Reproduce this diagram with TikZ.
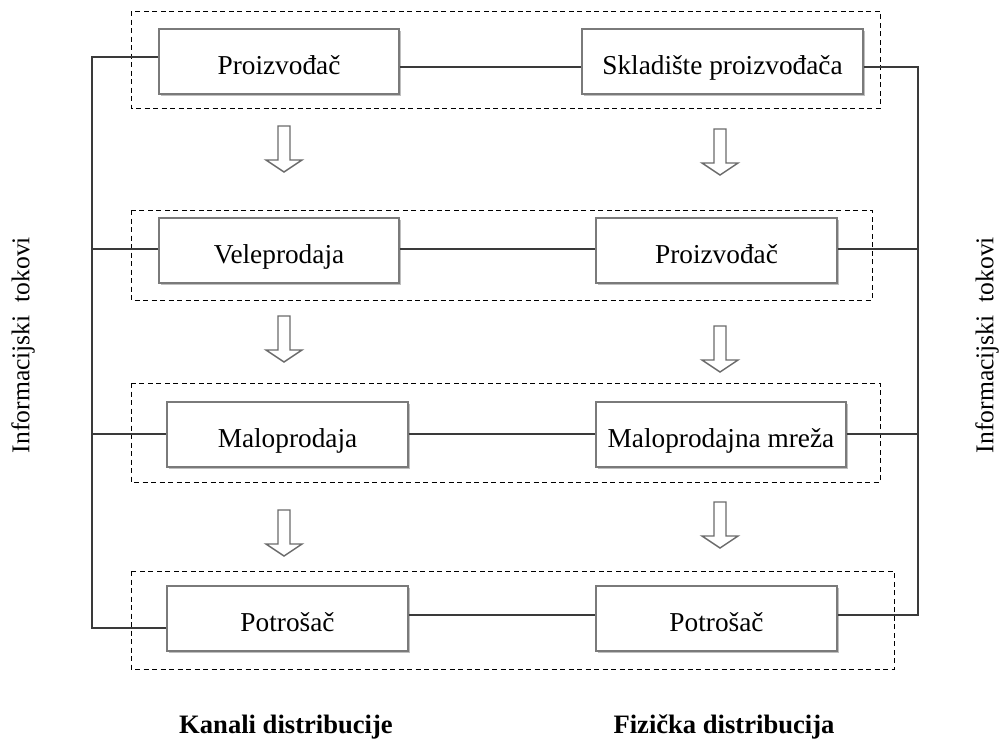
\documentclass[tikz,border=0pt]{standalone}
\usepackage{fontspec}
\setmainfont{Liberation Serif}
\usetikzlibrary{shadows}
\definecolor{boxgray}{HTML}{7A7A7A}
\definecolor{linegray}{HTML}{3A3A3A}
\definecolor{arrowgray}{HTML}{6A6A6A}
\tikzset{
  stagebox/.style={draw=boxgray, line width=1.4pt, fill=white, minimum height=65pt,
    inner sep=0pt, font=\fontsize{27.3}{32}\selectfont, text height=26pt, text depth=1pt,
    drop shadow={shadow xshift=1.6pt, shadow yshift=-1.6pt, fill=black!25, opacity=1}},
  groupframe/.style={draw=black, line width=0.9pt, dash pattern=on 5pt off 3.5pt},
  link/.style={draw=linegray, line width=1.3pt},
  arrowline/.style={draw=arrowgray, line width=1.4pt, fill=white, line join=miter},
  downarrow/.pic={\draw[arrowline] (-6,0) -- (6,0) -- (6,34) -- (18,34) -- (0,46) -- (-18,34) -- (-6,34) -- cycle;},
  sidelabel/.style={font=\fontsize{25.6}{30}\selectfont, rotate=90, inner sep=0pt},
  footlabel/.style={font=\fontsize{26.6}{31}\selectfont\bfseries, inner sep=0pt}
}
\begin{document}
\begin{tikzpicture}[x=1pt, y=-1pt]
\useasboundingbox[fill=white] (0,0) rectangle (1002,742);

% dashed group frames
\draw[groupframe] (131,11) rectangle (880,108);
\draw[groupframe] (131,210) rectangle (872,300);
\draw[groupframe] (131,383) rectangle (880,482);
\draw[groupframe] (131,571) rectangle (894,669);

% boxes
\node[stagebox, minimum width=240pt] (L1) at (279,61.5) {Proizvođač};
\node[stagebox, minimum width=281pt] (R1) at (722.5,61.5) {Skladište proizvođača};
\node[stagebox, minimum width=240pt] (L2) at (279,250.5) {Veleprodaja};
\node[stagebox, minimum width=241pt] (R2) at (716.5,250.5) {Proizvođač};
\node[stagebox, minimum width=241pt] (L3) at (287.5,434.5) {Maloprodaja};
\node[stagebox, minimum width=250pt] (R3) at (721,434.5) {Maloprodajna mreža};
\node[stagebox, minimum width=241pt] (L4) at (287.5,618.5) {Potrošač};
\node[stagebox, minimum width=241pt] (R4) at (716.5,618.5) {Potrošač};

% bus coordinates
\coordinate (bl1) at (92,57);
\coordinate (bl2) at (92,249);
\coordinate (bl3) at (92,434);
\coordinate (bl4) at (92,628);
\coordinate (br1) at (918,67);
\coordinate (br2) at (918,249);
\coordinate (br3) at (918,434);
\coordinate (br4) at (918,615);
\coordinate (m1) at (490,67);
\coordinate (m2) at (490,249);
\coordinate (m3) at (490,434);
\coordinate (m4) at (490,615);

% connectors between boxes
\draw[link] (L1.east |- m1) -- (R1.west |- m1);
\draw[link] (L2.east |- m2) -- (R2.west |- m2);
\draw[link] (L3.east |- m3) -- (R3.west |- m3);
\draw[link] (L4.east |- m4) -- (R4.west |- m4);

% left information bus
\draw[link] (L1.west |- bl1) -- (bl1) -- (bl4) -- (L4.west |- bl4);
\draw[link] (bl2) -- (L2.west |- bl2);
\draw[link] (bl3) -- (L3.west |- bl3);

% right information bus
\draw[link] (R1.east |- br1) -- (br1) -- (br4) -- (R4.east |- br4);
\draw[link] (R2.east |- br2) -- (br2);
\draw[link] (R3.east |- br3) -- (br3);

% hollow down arrows
\pic at (284,126) {downarrow};
\pic at (720,129) {downarrow};
\pic at (284,316) {downarrow};
\pic at (720,326) {downarrow};
\pic at (284,510) {downarrow};
\pic at (720,502) {downarrow};

% side labels
\node[sidelabel] (infoL) at (23,345) {Informacijski\ \ tokovi};
\node[sidelabel] (infoR) at (987,345) {Informacijski\ \ tokovi};

% foot labels
\node[footlabel] (kanali) at (286,727) {Kanali distribucije};
\node[footlabel] (fizicka) at (724,727) {Fizička distribucija};
\end{tikzpicture}
\end{document}
